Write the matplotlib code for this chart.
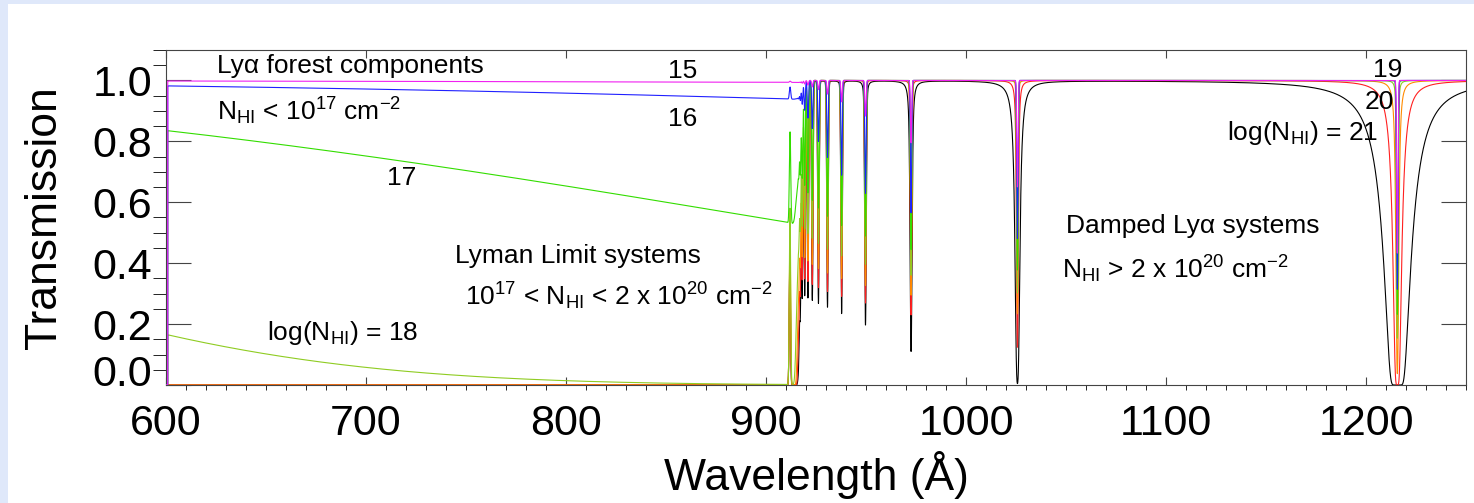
"""
HI transmission spectra for log N_HI = 15..21 (Lyman series + Lyman continuum),
smoothed to the plotting resolution.  Writes out.png.
"""
import numpy as np
import matplotlib
matplotlib.use("Agg")
import matplotlib.pyplot as plt
from matplotlib.ticker import MultipleLocator
from matplotlib.patches import Rectangle
import matplotlib.transforms as mtransforms

# ---- column densities and their colours ----
log_nhi = [15, 16, 17, 18, 19, 20, 21]
curve_colors = ["#f020f0", "#2020ff", "#33dd00", "#8fcc22", "#ff8c00", "#ff2020", "#000000"]

# ---- Lyman series (upper level n = 2..40): rest wavelength [A], f, Gamma [1/s] ----
lyman_wave = [1215.670, 1025.722, 972.537, 949.743, 937.804, 930.748, 926.226,
              923.150, 920.963, 919.351, 918.129, 917.181, 916.429, 915.824,
              915.329, 914.919, 914.576, 914.286, 914.039, 913.826, 913.641,
              913.480, 913.339, 913.215, 913.104, 913.006, 912.918, 912.839,
              912.768, 912.703, 912.645, 912.591, 912.543, 912.498, 912.457,
              912.420, 912.385, 912.353, 912.324]
lyman_f = [0.4164, 0.07912, 0.02901, 0.01394, 0.007799, 0.004814, 0.003183,
           0.002216, 0.001605, 0.001201, 0.0009214, 0.0007227, 0.0005774,
           0.0004686, 0.0003856, 0.0003211, 0.0002702, 0.0002296, 0.0001967,
           0.0001698, 0.0001476, 0.0001291, 0.0001136, 0.0001005, 0.0000894,
           0.0000798, 0.0000716, 0.0000645, 0.0000583, 0.0000529, 0.0000482,
           0.0000438, 0.0000400, 0.0000367, 0.0000337, 0.0000311, 0.0000287,
           0.0000265, 0.0000246]
lyman_gamma = [6.265e8, 1.897e8, 8.127e7, 4.204e7, 2.450e7, 1.236e7, 8.255e6,
               5.785e6, 4.210e6, 3.160e6, 2.430e6, 1.910e6, 1.530e6, 1.240e6,
               1.020e6, 8.500e5, 7.100e5, 6.000e5, 5.100e5, 4.400e5, 3.800e5,
               3.300e5, 2.900e5, 2.600e5, 2.300e5, 2.000e5, 1.800e5, 1.600e5,
               1.450e5, 1.300e5, 1.200e5, 1.100e5, 1.000e5, 9.000e4, 8.200e4,
               7.500e4, 6.900e4, 6.300e4, 5.800e4]
b_kms = 30.0            # Doppler parameter
lyman_limit = 911.753   # A
sigma_ll = 6.30e-18     # cm^2 at the Lyman limit
res_fwhm = 0.7          # A, smoothing of the plotted spectra

# ---- tick values / labels ----
x_ticks = [600, 700, 800, 900, 1000, 1100, 1200]
x_ticklabels = ["600", "700", "800", "900", "1000", "1100", "1200"]
y_ticks = [0.0, 0.2, 0.4, 0.6, 0.8, 1.0]
y_ticklabels = ["0.0", "0.2", "0.4", "0.6", "0.8", "1.0"]

wave = np.arange(600.0, 1260.0, 0.02)


def transmission(lognh):
    nh = 10.0 ** lognh
    tau = np.where(wave < lyman_limit, nh * sigma_ll * (wave / lyman_limit) ** 3, 0.0)
    for lam0, f, gam in zip(lyman_wave, lyman_f, lyman_gamma):
        tau0 = 1.497e-15 * nh * f * lam0 / b_kms
        dlam_d = lam0 * b_kms / 2.998e5
        a = gam * lam0 * 1e-8 / (4 * np.pi * b_kms * 1e5)
        x = (wave - lam0) / dlam_d
        h = np.exp(-x ** 2) + a / (np.sqrt(np.pi) * (x ** 2 + 1.0))
        tau += tau0 * h
    t = np.exp(-tau)
    # gaussian smoothing, edges zeroed like IDL CONVOL
    sig = res_fwhm / 2.3548 / 0.02
    half = int(3 * sig)
    k = np.exp(-0.5 * (np.arange(-half, half + 1) / sig) ** 2)
    k /= k.sum()
    ts = np.convolve(t, k, mode="same")
    ts[:half] = 0.0
    ts[-half:] = 0.0
    return ts


plt.rcParams["font.family"] = ["Liberation Sans", "DejaVu Sans"]
plt.rcParams["mathtext.fontset"] = "custom"
plt.rcParams["mathtext.rm"] = "Liberation Sans"
plt.rcParams["mathtext.it"] = "Liberation Sans:italic"
plt.rcParams["mathtext.bf"] = "Liberation Sans:bold"

fig = plt.figure(figsize=(14.74, 5.03), dpi=100, facecolor="#dfe8fa")
fig.patches.append(Rectangle((8 / 1474, 0), 1, 1 - 4 / 503, transform=fig.transFigure,
                             facecolor="white", edgecolor="none", zorder=-10))
ax = fig.add_axes([166 / 1474, 1 - 385 / 503, 1300 / 1474, 335 / 503])

# highest column first so the low-N curves sit on top
for i in reversed(range(len(log_nhi))):
    ax.plot(wave, transmission(log_nhi[i]), color=curve_colors[i], lw=0.8,
            zorder=10 - i)

ax.set_xlim(600, 1250)
ax.set_ylim(0, 1.1)
ax.set_xticks(x_ticks)
ax.set_xticklabels(x_ticklabels)
ax.set_yticks(y_ticks)
ax.set_yticklabels(y_ticklabels)
ax.xaxis.set_minor_locator(MultipleLocator(10))
ax.yaxis.set_minor_locator(MultipleLocator(0.05))
ax.tick_params(direction="in", top=True, right=True, labelsize=31, color="#444444", width=0.8)
ax.tick_params(axis="x", which="major", length=6, pad=14)
ax.tick_params(axis="x", which="minor", length=3.5)
ax.tick_params(axis="y", which="major", length=18, pad=10)
ax.tick_params(axis="y", which="minor", length=9.5)
for s in ax.spines.values():
    s.set_color("#444444")
    s.set_linewidth(0.8)

# IDL pushes the bottom y label up
lab0 = ax.get_yticklabels()[0]
lab0.set_transform(lab0.get_transform() +
                   mtransforms.ScaledTranslation(0, 0.15, fig.dpi_scale_trans))

ax.set_xlabel("Wavelength (Å)", fontsize=32)
ax.set_ylabel("Transmission", fontsize=32)
ax.xaxis.set_label_coords(0.5, -0.197)
ax.yaxis.set_label_coords(-0.078, 0.5)

fs = 19
ax.text(625.5, 1.023, "Lyα forest components", fontsize=fs, va="baseline", zorder=20)
ax.text(625.5, 0.869, r"N$_\mathrm{HI}$ < 10$^{17}$ cm$^{-2}$", fontsize=fs, va="baseline", zorder=20)
ax.text(858.5, 1.03, "15", fontsize=fs, ha="center", va="center", zorder=20)
ax.text(858.5, 0.875, "16", fontsize=fs, ha="center", va="center", zorder=20)
ax.text(718, 0.68, "17", fontsize=fs, ha="center", va="center", zorder=20)
ax.text(650.5, 0.148, r"log(N$_\mathrm{HI}$) = 18", fontsize=fs, va="baseline", zorder=20)
ax.text(744.5, 0.40, "Lyman Limit systems", fontsize=fs, va="baseline", zorder=20)
ax.text(749.5, 0.262, r"10$^{17}$ < N$_\mathrm{HI}$ < 2 x 10$^{20}$ cm$^{-2}$", fontsize=fs,
        va="baseline", zorder=20)
ax.text(1050, 0.498, "Damped Lyα systems", fontsize=fs, va="baseline", zorder=20)
ax.text(1048, 0.351, r"N$_\mathrm{HI}$ > 2 x 10$^{20}$ cm$^{-2}$", fontsize=fs, va="baseline", zorder=20)
ax.text(1211, 1.033, "19", fontsize=fs, ha="center", va="center", zorder=20)
ax.text(1206.5, 0.93, "20", fontsize=fs, ha="center", va="center", zorder=20)
ax.text(1130.5, 0.803, r"log(N$_\mathrm{HI}$) = 21", fontsize=fs, va="baseline", zorder=20)

fig.savefig("out.png", dpi=100, facecolor=fig.get_facecolor())
